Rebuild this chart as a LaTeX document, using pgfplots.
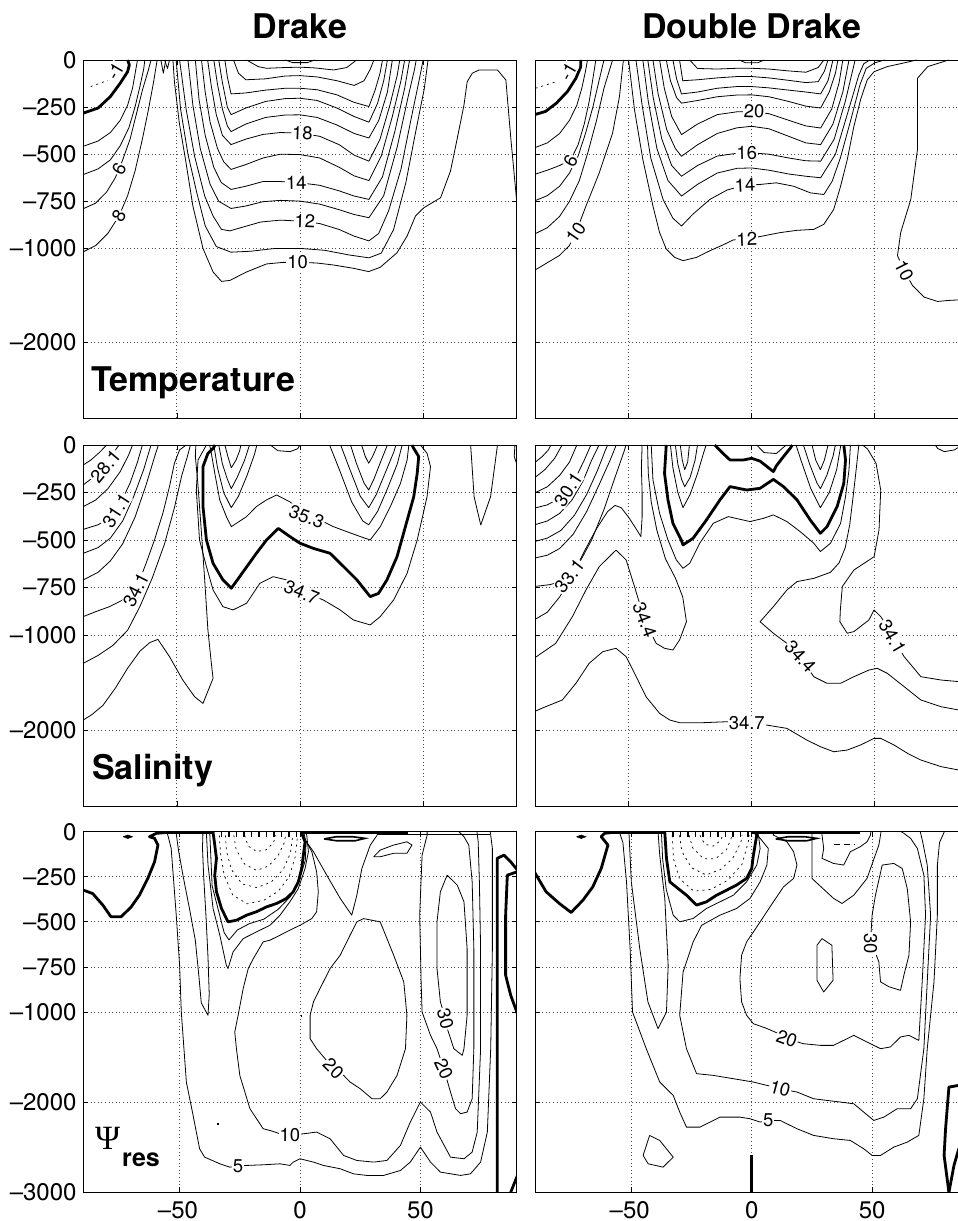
\documentclass[border=0pt]{standalone}
\usepackage{fontspec}
\setmainfont{TeX Gyre Heros}
\newfontfamily\psifont{Liberation Serif}
\usepackage{pgfplots}
\pgfplotsset{compat=1.18}

% depth axis: upper 1000 m stretched twice as much as the deep ocean
\pgfplotsset{
  y coord trafo/.code={\pgfmathparse{ifthenelse((#1)>-1000,(#1),0.5*(#1)-500)}},
  y coord inv trafo/.code={\pgfmathparse{ifthenelse((#1)>-1000,(#1),2*(#1)+1000)}},
  panel/.style={scale only axis, width=433.4pt, xmin=-88, xmax=88, ymax=0,
    xtick={-50,0,50}, xticklabels={}, yticklabels={},
    axis line style={line width=0.9pt},
    tick align=inside, major tick length=5pt,
    tick style={line width=0.7pt, black},
    grid=major, major grid style={black!70, line width=0.8pt, dash pattern=on 0.9pt off 2.7pt},
  },
}
\tikzset{
  c/.style={black, line width=0.8pt, line join=round},
  ck/.style={black, line width=2.8pt, line join=round},
  cd/.style={black, line width=0.7pt, dash pattern=on 2pt off 4pt},
  lb/.style={fill=white, inner sep=0.8pt, font=\fontsize{18.5}{18.5}\selectfont},
  yl/.style={anchor=east, inner sep=0pt, font=\fontsize{24}{24}\selectfont},
  xl/.style={anchor=north, inner sep=0pt, font=\fontsize{24}{24}\selectfont},
}

\begin{document}
\begin{tikzpicture}
\path[use as bounding box] (0pt,0pt) rectangle (958pt,1221pt);
\clip (0pt,0pt) rectangle (958pt,1221pt);

%================ Temperature, Drake =================
\begin{axis}[panel, at={(83.3pt,803pt)}, anchor=south west, height=358pt, ymin=-2800,
  ytick={-2000,-1000,-750,-500,-250,0}]
\addplot[ck] coordinates {(-88,-282) (-82,-255) (-77,-194) (-73,-123) (-70,-62) (-69.3,-26) (-70,0)};
\addplot[cd] coordinates {(-85,-141) (-78,-108)};
\addplot[c] coordinates {(-88,-458) (-82,-430) (-77,-385) (-73,-320) (-70,-240) (-68,-150) (-66.8,-60) (-66,0)};
\addplot[c] coordinates {(-88,-608) (-82,-578) (-77,-530) (-73,-455) (-69.5,-360) (-67,-250) (-65,-140) (-63.5,-50) (-63,0)};
\addplot[c] coordinates {(-88,-789) (-83,-760) (-78.5,-700) (-75,-625) (-72,-530) (-69,-420) (-66.5,-290) (-64,-160) (-61.5,-50) (-60.5,0)};
\addplot[c] coordinates {(-88,-1036) (-83,-985) (-78,-920) (-73.5,-828) (-70,-720) (-67,-590) (-64,-420) (-61.5,-260) (-59.5,-120) (-58,0)};
\addplot[c] coordinates {(-56.5,0) (-55.5,-70) (-54.5,0)};
\addplot[c] coordinates {(-55,0) (-53.8,-45) (-53,0)};
\addplot[c] coordinates {(-6,0) (-3,-14) (3,-14) (6,0)};
\addplot[c] coordinates {(-21.7,0) (-17,-35) (-13.6,-44) (-6,-40) (0,-38) (6,-42) (13.6,-53) (19,-40) (23,0)};
\addplot[c] coordinates {(-27,0) (-25,-70) (-22,-105) (-14,-100) (-6,-85) (0,-83) (7,-90) (15,-110) (22,-135) (26,-110) (28.5,-50) (30,0)};
\addplot[c] coordinates {(-30.5,0) (-29.5,-90) (-28,-180) (-22,-175) (-14,-160) (-6,-150) (0,-150) (7,-158) (15,-185) (22,-225) (28,-247) (30.5,-160) (32.5,-70) (33.5,0)};
\addplot[c] coordinates {(-33,0) (-31.5,-120) (-29.5,-250) (-28,-290) (-22,-255) (-14,-220) (-6,-205) (0,-203) (7,-215) (15,-255) (22,-300) (28,-330) (31.5,-230) (34,-110) (35.5,0)};
\addplot[c] coordinates {(-35,0) (-33.5,-130) (-31.5,-260) (-29.5,-350) (-28,-380) (-22,-340) (-14,-305) (-6,-292) (0,-291) (7,-305) (15,-345) (22,-390) (28,-414) (32,-320) (35.5,-170) (37.5,0)};
\addplot[c] coordinates {(-37.5,0) (-36,-140) (-34,-290) (-31.5,-400) (-28,-449) (-22,-420) (-15,-395) (-8,-385) (0,-388) (8,-405) (16,-450) (22,-505) (28,-537) (32.5,-420) (36.5,-240) (39.5,-80) (40.5,0)};
\addplot[c] coordinates {(-40,0) (-38.5,-170) (-36.5,-330) (-33.5,-470) (-31,-540) (-28,-581) (-22,-555) (-15,-520) (-8,-500) (0,-502) (8,-520) (16,-570) (22,-615) (28,-640) (33,-510) (37.5,-300) (41,-110) (42.5,0)};
\addplot[c] coordinates {(-42.5,0) (-41,-210) (-38.5,-400) (-35,-570) (-32,-650) (-28,-687) (-22,-670) (-15,-645) (-8,-645) (0,-652) (8,-665) (16,-695) (22,-722) (28,-740) (33.5,-620) (38.5,-380) (42.5,-150) (44.5,0)};
\addplot[c] coordinates {(-45.5,0) (-43.5,-240) (-40.5,-470) (-36.5,-660) (-33,-750) (-28,-788) (-22,-775) (-15,-752) (-8,-745) (0,-749) (8,-765) (16,-795) (22,-820) (28,-837) (34,-720) (39.5,-460) (44,-190) (46.5,-50) (47.2,0)};
\addplot[c] coordinates {(-48.9,0) (-46.2,-264) (-42.8,-511) (-38.7,-722) (-35.3,-828) (-31.9,-899) (-28.5,-907) (-24,-890) (-16,-860) (-8,-850) (0,-855) (8,-868) (16,-900) (22,-935) (28,-960) (32,-920) (36,-800) (41,-580) (45,-320) (48.5,-100) (50,0)};
\addplot[c] coordinates {(-50.3,0) (-48.5,-260) (-45.5,-500) (-42,-700) (-38.5,-880) (-34,-990) (-28,-1040) (-20,-1030) (-10,-1000) (0,-1000) (10,-1020) (20,-1070) (28,-1100) (33,-1050) (38,-900) (43,-650) (47,-380) (50.5,-150) (52,0)};
\addplot[c] coordinates {(-51.6,0) (-51,-115) (-49,-335) (-46.5,-528) (-43.5,-775) (-39.4,-1000) (-35.3,-1250) (-31.9,-1350) (-28.5,-1340) (-21.7,-1250) (-13.6,-1165) (-6.8,-1148) (0,-1148) (6.8,-1155) (13.6,-1176) (21.7,-1211) (27.9,-1246) (32.6,-1200) (39.4,-1046) (43.5,-934) (46.9,-828) (50.3,-784) (57.1,-731) (61.1,-590) (63.9,-414) (66.6,-238) (67.9,-115) (70,-70) (72.7,-53) (80.2,-53) (83.6,-106) (85.6,-414) (88,-749)};
\node[lb,rotate=60] at (axis cs:-75,-60) {-1};
\node[lb,rotate=62] at (axis cs:-73.5,-578) {6};
\node[lb,rotate=60] at (axis cs:-73.5,-828) {8};
\node[lb,rotate=-2] at (axis cs:1,-388) {18};
\node[lb,rotate=1] at (axis cs:-1.5,-650) {14};
\node[lb,rotate=-2] at (axis cs:2,-856) {12};
\node[lb] at (axis cs:-1,-1148) {10};
\end{axis}

%================ Temperature, Double Drake =================
\begin{axis}[panel, at={(535pt,803pt)}, anchor=south west, height=358pt, ymin=-2800,
  ytick={-2000,-1000,-750,-500,-250,0}]
\addplot[ck] coordinates {(-88.4,-291) (-83.7,-273) (-79.3,-229) (-74.8,-167) (-71.4,-97) (-69.4,-35) (-69.4,0)};
\addplot[cd] coordinates {(-87.8,-150) (-80,-118)};
\addplot[c] coordinates {(-88.4,-467) (-83,-440) (-78,-390) (-74,-320) (-71,-240) (-69,-150) (-67.5,-60) (-66.7,0)};
\addplot[c] coordinates {(-88.4,-608) (-83,-585) (-78,-560) (-73.5,-530) (-70.5,-450) (-68,-340) (-66,-220) (-64.5,-100) (-63.3,0)};
\addplot[c] coordinates {(-88.4,-749) (-83,-720) (-78,-670) (-74,-600) (-70.5,-510) (-67.5,-390) (-64.5,-250) (-62,-110) (-60,0)};
\addplot[c] coordinates {(-88.4,-925) (-83,-890) (-78,-830) (-74,-750) (-70,-640) (-66.5,-490) (-63,-320) (-60,-150) (-56.5,0)};
\addplot[c] coordinates {(-88.4,-1236) (-78.2,-1077) (-74.1,-986) (-71.4,-916) (-67.3,-775) (-61.9,-599) (-56.5,-388) (-53.7,-194) (-52.4,-35) (-52.1,0)};
\addplot[c] coordinates {(-5,0) (-2.5,-15) (2.5,-15) (5,0)};
\addplot[c] coordinates {(-25.2,0) (-22,-45) (-14,-48) (-6,-44) (0,-44) (7,-48) (15,-58) (22,-65) (27,-40) (29.3,0)};
\addplot[c] coordinates {(-29.3,0) (-28,-110) (-22,-105) (-14,-95) (-6,-88) (0,-88) (7,-95) (15,-108) (22,-120) (27,-115) (29.5,-60) (31,0)};
\addplot[c] coordinates {(-32,0) (-30.5,-100) (-28.5,-180) (-22,-170) (-14,-150) (-6,-141) (0,-141) (7,-148) (15,-160) (22,-170) (28,-180) (31,-110) (33,0)};
\addplot[c] coordinates {(-34.7,0) (-33,-110) (-30.5,-200) (-28.5,-229) (-22,-215) (-14,-195) (-6,-186) (0,-185) (7,-195) (15,-220) (22,-245) (28,-255) (31.5,-170) (34,-70) (35,0)};
\addplot[c] coordinates {(-37.4,0) (-35.5,-150) (-32.5,-300) (-28.5,-396) (-22,-340) (-14,-290) (-6,-275) (0,-273) (7,-285) (15,-320) (22,-350) (28,-361) (32.5,-260) (35.5,-120) (37,0)};
\addplot[c] coordinates {(-40.1,0) (-38,-180) (-34.5,-370) (-31,-470) (-28.5,-511) (-22,-450) (-14,-390) (-6,-360) (0,-352) (7,-365) (15,-405) (22,-440) (28,-449) (33,-340) (37,-170) (39.5,0)};
\addplot[c] coordinates {(-42.2,0) (-40,-200) (-36.5,-420) (-32.5,-560) (-28.5,-617) (-22,-560) (-14,-510) (-6,-495) (0,-493) (7,-500) (15,-520) (22,-535) (28,-537) (33.5,-420) (38,-220) (42,0)};
\addplot[c] coordinates {(-44.2,0) (-42,-220) (-38.5,-470) (-34,-640) (-28.5,-722) (-22,-660) (-14,-600) (-6,-575) (0,-573) (7,-585) (15,-605) (22,-617) (28,-625) (34,-500) (39,-280) (43.5,-80) (45.5,-20) (48,0)};
\addplot[c] coordinates {(-47,0) (-44.5,-240) (-41,-520) (-36,-740) (-32,-840) (-28.5,-881) (-24,-820) (-17,-740) (-10,-690) (-3,-665) (3,-661) (10,-652) (17,-670) (23.8,-705) (29.3,-714) (32.7,-643) (36,-520) (40,-330) (44,-130) (46.5,-45) (50,-15) (54,0)};
\addplot[c] coordinates {(-50,0) (-47.6,-264) (-44.2,-529) (-40.1,-775) (-37.4,-916) (-34.7,-1007) (-31.3,-1095) (-27.9,-1130) (-22.4,-1095) (-17,-1025) (-11.6,-981) (-7.5,-955) (-2,-951) (3.4,-937) (11.6,-916) (18.4,-904) (25.2,-899) (29.3,-872) (33.3,-793) (36.1,-670) (38.8,-529) (41.5,-352) (44.2,-211) (46.9,-106) (49.7,-62) (55.1,-35) (62,-15) (67,0)};
\addplot[c] coordinates {(80,0) (71.5,-35) (67.3,-97) (67.3,-300) (67.3,-476) (64.6,-740) (60.5,-916) (59.2,-1077) (61.9,-1236) (65.3,-1394) (70,-1517) (75.5,-1563) (79.6,-1553) (84.2,-1546) (88,-1546)};
\node[lb,rotate=60] at (axis cs:-74.5,-62) {-1};
\node[lb,rotate=62] at (axis cs:-73.5,-535) {6};
\node[lb,rotate=55] at (axis cs:-71.4,-916) {10};
\node[lb,rotate=-2] at (axis cs:1,-273) {20};
\node[lb,rotate=1] at (axis cs:-2,-493) {16};
\node[lb,rotate=3] at (axis cs:-2.7,-663) {14};
\node[lb,rotate=2] at (axis cs:-2,-951) {12};
\node[lb,rotate=-63] at (axis cs:61.9,-1236) {10};
\end{axis}

%================ Salinity, Drake =================
\begin{axis}[panel, at={(83.3pt,415pt)}, anchor=south west, height=361pt, ymin=-2800,
  ytick={-2000,-1000,-750,-500,-250,0}]
\addplot[c] coordinates {(-88,-105) (-85,-80) (-81.5,-40) (-78.5,0)};
\addplot[c] coordinates {(-88,-210) (-84,-170) (-80,-115) (-76.5,-55) (-73.5,0)};
\addplot[c] coordinates {(-88,-324) (-83,-290) (-78,-230) (-73,-140) (-69.5,-50) (-68,0)};
\addplot[c] coordinates {(-88,-444) (-82,-420) (-77,-380) (-73,-310) (-69,-200) (-66,-90) (-64,0)};
\addplot[c] coordinates {(-88,-570) (-82,-540) (-77,-490) (-72,-400) (-67.5,-270) (-63.5,-130) (-60.5,0)};
\addplot[c] coordinates {(-88,-710) (-82,-670) (-77,-610) (-72,-520) (-67,-380) (-62.5,-210) (-59,-60) (-57.5,0)};
\addplot[c] coordinates {(-88,-903) (-82.9,-877) (-77.4,-851) (-72,-816) (-68.6,-781) (-66.6,-760) (-62.5,-623) (-59.1,-500) (-55.7,-360) (-53,-219) (-51,-96) (-48.9,-26) (-46.2,0)};
\addplot[c] coordinates {(-88,-1298) (-82,-1215) (-76,-1110) (-70,-975) (-65,-850) (-60,-700) (-55,-520) (-51,-330) (-48,-160) (-45.5,-50) (-44.5,0)};
\addplot[c] coordinates {(-88,-1895) (-84.6,-1840) (-80,-1740) (-75,-1560) (-70,-1350) (-65,-1170) (-61,-1080) (-57.7,-1046) (-53,-1228) (-47.6,-1474) (-42.8,-1650) (-39.4,-1720) (-35.3,-1456) (-36,-1298) (-37.4,-973) (-38.7,-710) (-40.1,-447) (-41.5,-200) (-42.5,-60) (-42.3,0)};
\addplot[c] coordinates {(-38,0) (-41.4,-79) (-42.1,-237) (-40.8,-500) (-38,-640) (-35.3,-763) (-31.3,-851) (-27.2,-868) (-21.7,-833) (-16.3,-728) (-10.9,-693) (-5.4,-710) (0.7,-770) (9.5,-816) (16.3,-868) (21.7,-921) (28.5,-947) (32.6,-903) (38,-816) (43.5,-675) (47.6,-500) (51.6,-272) (53,-114) (51.6,-44) (48.9,0)};
\addplot[ck] coordinates {(-34.5,0) (-35.3,-18) (-37.4,-44) (-39.4,-114) (-39.4,-324) (-38,-500) (-35.3,-623) (-31.3,-710) (-27.9,-754) (-24.5,-693) (-17.7,-570) (-13.6,-500) (-8.8,-439) (-4.1,-482) (0,-517) (5.4,-544) (12.2,-570) (17.7,-640) (23.1,-710) (28.5,-798) (31.9,-781) (35.3,-710) (39.4,-588) (42.8,-430) (46.2,-272) (47.6,-149) (48.2,-61) (46.2,-18) (45.5,0)};
\addplot[c] coordinates {(-36.7,0) (-36,-44) (-34.6,-149) (-32.6,-289) (-29.9,-377) (-27.9,-430) (-25.8,-412) (-21.7,-377) (-17.7,-324) (-13.6,-289) (-9.5,-263) (-4,-300) (2.7,-377) (8.2,-395) (13.6,-430) (19,-456) (24.5,-482) (28.5,-500) (32.6,-430) (36.7,-324) (40.8,-202) (43.5,-79) (44.2,0)};
\addplot[c] coordinates {(-35,0) (-33.5,-120) (-31,-250) (-27.9,-330) (-25,-270) (-21.5,-160) (-18.5,-50) (-17.5,0)};
\addplot[c] coordinates {(-33,0) (-31.5,-100) (-29.5,-180) (-27.9,-230) (-25.5,-170) (-22.5,-80) (-20.5,0)};
\addplot[c] coordinates {(-30.5,0) (-29.3,-60) (-27.9,-120) (-26,-80) (-24.5,-30) (-24,0)};
\addplot[c] coordinates {(12,0) (16,-130) (21,-300) (25.5,-400) (27.9,-420) (31.5,-350) (35.5,-230) (39.5,-100) (41.5,0)};
\addplot[c] coordinates {(16.5,0) (20,-120) (24.5,-270) (27.9,-330) (31,-260) (34.5,-150) (38,-40) (39,0)};
\addplot[c] coordinates {(20.5,0) (23,-100) (26,-200) (27.9,-237) (30,-180) (33,-80) (35.5,0)};
\addplot[c] coordinates {(25,0) (26.5,-60) (27.9,-96) (29.5,-60) (31.5,0)};
\addplot[c] coordinates {(-12,0) (-9,-30) (-4,-35) (-1,-20) (0,0)};
\addplot[c] coordinates {(69.3,0) (70.7,-272) (73.4,-421) (77.4,-272) (80.2,0)};
\addplot[c] coordinates {(87.3,0) (87,-60) (88,-100)};
\node[lb,rotate=50] at (axis cs:-79,-114) {28.1};
\node[lb,rotate=57] at (axis cs:-74.5,-345) {31.1};
\node[lb,rotate=63] at (axis cs:-66.6,-763) {34.1};
\node[lb,rotate=-20] at (axis cs:2.7,-377) {35.3};
\node[lb,rotate=-22] at (axis cs:0.7,-775) {34.7};
\end{axis}

%================ Salinity, Double Drake =================
\begin{axis}[panel, at={(535pt,415pt)}, anchor=south west, height=361pt, ymin=-2800,
  ytick={-2000,-1000,-750,-500,-250,0}]
\addplot[c] coordinates {(-88.4,-96) (-85,-60) (-82.5,-25) (-81.6,0)};
\addplot[c] coordinates {(-88.4,-175) (-84,-130) (-80,-70) (-77,0)};
\addplot[c] coordinates {(-88.4,-254) (-83,-220) (-78,-160) (-74,-90) (-71,0)};
\addplot[c] coordinates {(-88.4,-333) (-83,-315) (-78,-280) (-74.5,-235) (-71,-160) (-68,-80) (-65.3,0)};
\addplot[c] coordinates {(-88.4,-421) (-83,-400) (-78,-360) (-73,-290) (-68.5,-190) (-65,-80) (-62,0)};
\addplot[c] coordinates {(-88.4,-509) (-83,-490) (-77.5,-450) (-72,-370) (-67,-260) (-62.5,-130) (-59.5,-30) (-58.5,0)};
\addplot[c] coordinates {(-88.4,-596) (-83,-580) (-78,-545) (-72.5,-470) (-67,-350) (-62,-210) (-57.5,-80) (-55,0)};
\addplot[c] coordinates {(-88.4,-745) (-82,-735) (-77.5,-720) (-74,-690) (-70,-620) (-65,-500) (-60,-340) (-55.5,-170) (-52,-40) (-51,0)};
\addplot[c] coordinates {(-88.4,-921) (-83,-880) (-78,-800) (-73,-690) (-68,-560) (-63,-440) (-58.5,-350) (-55.5,-318) (-53,-330) (-50,-380) (-47,-440) (-45,-482) (-44.5,-380) (-44.5,-250) (-44.8,-120) (-44.5,0)};
\addplot[c] coordinates {(-88.4,-1246) (-79.6,-1088) (-72.8,-903) (-67.3,-763) (-61.9,-640) (-55.1,-553) (-51,-605) (-47.6,-745) (-43.5,-921) (-38.8,-1088) (-35.4,-1140) (-32,-1158) (-29.3,-1053) (-26.5,-930) (-28,-800) (-31,-700) (-35,-600) (-38.5,-450) (-40.8,-300) (-42,-150) (-42.3,0)};
\addplot[c] coordinates {(-88.4,-1807) (-83.7,-1755) (-76.9,-1684) (-71.4,-1509) (-66,-1298) (-60.5,-1176) (-55.1,-1140) (-51,-1228) (-46.9,-1439) (-42.9,-1650) (-37.4,-1825) (-33.3,-1895) (-29.3,-1923) (-19.7,-1923) (-10.2,-1913) (-2,-1931) (6.1,-1948) (14.3,-1983) (22.4,-2106) (27.9,-2176) (33.3,-2229) (38.8,-2211) (44.2,-2158) (49.7,-2088) (52.4,-2088) (57.8,-2158) (63.3,-2246) (68.7,-2316) (76.9,-2386) (84.2,-2422) (88,-2430)};
\addplot[c] coordinates {(88,-1795) (84.2,-1790) (76.9,-1755) (68.7,-1684) (61.9,-1544) (55.1,-1404) (51,-1351) (47.6,-1369) (41.5,-1439) (36.1,-1509) (30.6,-1509) (25.2,-1439) (19.7,-1228) (14.3,-1088) (8.8,-991) (3.4,-930) (8.8,-851) (14.3,-763) (18.4,-719) (25.2,-702) (32,-670) (35.5,-620) (38,-540) (39.8,-420) (41.2,-270) (42.5,-120) (43.5,0)};
\addplot[c] coordinates {(45,0) (47,-20) (50.5,-96) (52.4,-237) (51.7,-447) (49.7,-588) (41.5,-658) (36.8,-745) (36,-868) (35.8,-930) (38.8,-991) (41.5,-982) (47.6,-921) (49.7,-868) (52.4,-903) (55.1,-956) (57.1,-1018) (61.9,-1228) (68.7,-1439) (76.9,-1474) (84.2,-1491) (88,-1495)};
\addplot[c] coordinates {(-40.8,0) (-40.1,-184) (-37.4,-360) (-34,-500) (-30.6,-605) (-27.9,-649) (-25.2,-623) (-21.1,-517) (-15.6,-412) (-9.5,-377) (-0.7,-403) (4.8,-386) (8.8,-368) (14.3,-403) (19.7,-456) (25.2,-517) (27.9,-561) (32,-517) (36.1,-412) (38.1,-272) (39.5,-132) (40.1,0)};
\addplot[ck] coordinates {(-34.7,0) (-35.4,-149) (-34,-289) (-32,-412) (-28.6,-500) (-27.9,-526) (-23.8,-491) (-18.4,-395) (-12.9,-289) (-8.8,-219) (-2,-237) (3.4,-228) (8.8,-181) (12.9,-219) (18.4,-289) (23.8,-395) (27.9,-465) (30.6,-430) (34.7,-324) (37.4,-202) (38.1,-79) (37.4,0)};
\addplot[ck] coordinates {(-15,0) (-12,-40) (-8.8,-79) (-3.4,-79) (0,-70) (3.4,-85) (8.8,-140) (10,-110) (12.9,-61) (15.6,-18) (16.5,0)};
\addplot[c] coordinates {(-33,0) (-32,-120) (-30,-250) (-27.9,-330) (-25,-260) (-22,-150) (-19.5,-40) (-18.5,0)};
\addplot[c] coordinates {(-31,0) (-30,-100) (-28.5,-180) (-27.2,-220) (-25,-170) (-23,-80) (-22,0)};
\addplot[c] coordinates {(-29,0) (-28.2,-80) (-27.2,-130) (-26,-90) (-25.3,0)};
\addplot[c] coordinates {(18,0) (20,-80) (24,-230) (27.9,-330) (31.5,-250) (34.5,-130) (36.2,0)};
\addplot[c] coordinates {(21,0) (23.5,-100) (26.5,-200) (27.9,-230) (30.5,-160) (33,-60) (34,0)};
\addplot[c] coordinates {(24.5,0) (26,-80) (27.9,-130) (29.5,-80) (31,0)};
\addplot[c] coordinates {(2,0) (5,-40) (10,-45) (14,0)};
\addplot[c] coordinates {(74.5,0) (75.5,-18) (78.2,-35) (82.3,-26) (84.4,-9) (85,0)};
\node[lb,rotate=57] at (axis cs:-74.5,-235) {30.1};
\node[lb,rotate=52] at (axis cs:-74,-690) {33.1};
\node[lb,rotate=-69] at (axis cs:-43.5,-921) {34.4};
\node[lb,rotate=-48] at (axis cs:19.7,-1228) {34.4};
\node[lb,rotate=-60] at (axis cs:57.1,-1018) {34.1};
\node[lb] at (axis cs:-2,-1931) {34.7};
\end{axis}

%================ Residual streamfunction, Drake =================
\begin{axis}[panel, at={(83.3pt,28.7pt)}, anchor=south west, height=360.6pt, xmin=-90, xmax=90, ymin=-3000,
  ytick={-3000,-2000,-1000,-750,-500,-250,0}]
\addplot[ck] coordinates {(-90,-324) (-86.1,-343) (-81.9,-407) (-78.5,-472) (-74.3,-472) (-70.1,-417) (-66.7,-352) (-63.2,-259) (-60.4,-167) (-59,-74) (-60.4,-37) (-62.5,-28) (-59.7,-9) (-55,-4) (-40,-4) (-36.1,-4) (-35.4,-74) (-34.7,-148) (-35.4,-241) (-34.7,-333) (-32.6,-426) (-29.9,-500) (-26.4,-491) (-22.2,-463) (-18.1,-444) (-13.9,-417) (-9.7,-398) (-5.6,-370) (-2.8,-333) (-0.7,-278) (0.7,-204) (1.4,-130) (2.1,-56) (0.7,-9)};
\addplot[black, fill=black] coordinates {(-73.5,-28) (-71.5,-18) (-69.5,-28) (-71.5,-38) (-73.5,-28)};
\addplot[black, line width=2.5pt] coordinates {(0,-5) (45,-5)};
\addplot[black, line width=5pt, dash pattern=on 1.5pt off 6pt] coordinates {(-33,-14) (-1,-14)};
\addplot[cd] coordinates {(-33.5,-20) (-33,-120) (-31.5,-240) (-28,-350) (-22,-400) (-15,-380) (-9,-330) (-4.5,-250) (-2,-140) (-1,-20)};
\addplot[cd] coordinates {(-31,-20) (-30.5,-110) (-28.5,-210) (-24,-290) (-18,-310) (-12,-280) (-7,-210) (-4,-120) (-3,-20)};
\addplot[cd] coordinates {(-27.5,-20) (-26.5,-100) (-23,-180) (-18,-215) (-13,-190) (-9,-130) (-6.5,-60) (-6,-20)};
\addplot[cd] coordinates {(-23,-20) (-21.5,-80) (-18,-110) (-14,-100) (-11,-60) (-10,-20)};
\addplot[c] coordinates {(-38.9,0) (-38.2,-185) (-36.1,-426) (-33.3,-574) (-30.6,-741) (-29.9,-759) (-27.8,-667) (-23.6,-593) (-18.1,-556) (-12.5,-519) (-8.3,-463) (-4.2,-389) (-0.7,-315) (2.1,-204) (3.5,-111) (2.8,-19) (2,0)};
\addplot[c] coordinates {(-37.5,0) (-37,-150) (-36.5,-300) (-34,-430) (-31.5,-560) (-29.5,-600) (-26,-545) (-21,-510) (-15,-485) (-9,-430) (-4,-360) (-0.5,-270) (2.2,-160) (2.5,-60) (1.5,0)};
\addplot[c] coordinates {(-51.5,0) (-50.5,-100) (-48.5,-250) (-46,-420) (-43.5,-600) (-42,-800) (-41,-950) (-38.2,-1037) (-37.7,-900) (-38.2,-700) (-39,-480) (-40,-250) (-40.5,-90) (-40.3,0)};
\addplot[c] coordinates {(-55.6,0) (-54.9,-19) (-53.5,-93) (-51.4,-463) (-50,-741) (-49.3,-1000) (-47.2,-1777) (-44.4,-2147) (-41.7,-2517) (-39.6,-2610) (-33.3,-2684) (-29.2,-2721) (-22.2,-2702) (-15.3,-2695) (-8.3,-2684) (-4.2,-2702) (-2.8,-2665) (0,-2628) (5.6,-2665) (9.7,-2702) (16.7,-2739) (22.2,-2795) (27.8,-2813) (34.7,-2813) (41.7,-2758) (45.8,-2665) (50,-2499) (54.2,-2665) (58.3,-2776) (66.7,-2813) (70.8,-2795) (75,-2665) (77.8,-2332) (79.2,-1407) (79.9,-648) (79.9,-93) (79.2,-19) (79,0)};
\addplot[c] coordinates {(0.7,0) (0.7,-9) (4.9,-111) (6.9,-222) (7.6,-333) (6.9,-444) (4.9,-482) (0,-519) (-4.2,-546) (-8.3,-574) (-12.5,-602) (-15.3,-611) (-19.4,-704) (-21.5,-759) (-23.6,-870) (-25.7,-1037) (-27.1,-1222) (-26.4,-1407) (-25,-1703) (-20.8,-2073) (-15.3,-2295) (-12.5,-2314) (-8.3,-2351) (-4.2,-2369) (1.4,-2351) (6.9,-2332) (12.5,-2406) (18.1,-2591) (23.6,-2647) (30.6,-2665) (36.1,-2647) (41.7,-2480) (45.8,-2221) (50,-1999) (54.2,-2110) (56.9,-2332) (62.5,-2610) (68.1,-2628) (71.5,-2554) (73.6,-2332) (75,-1407) (75,-648) (74.5,-278) (74,-56) (73.5,0)};
\addplot[c] coordinates {(26.4,-482) (33.3,-500) (38.9,-685) (43.1,-833) (44.4,-1037) (43.8,-1407) (40.3,-1703) (36.1,-1888) (33.3,-1962) (29.9,-1962) (25,-1851) (20.8,-1777) (18.1,-1703) (13.9,-1629) (6.9,-1407) (4.2,-1296) (4.2,-1037) (5.6,-944) (8.3,-870) (12.5,-759) (16.7,-685) (20.8,-574) (23.6,-500) (26.4,-482)};
\addplot[c] coordinates {(61.1,-241) (65.3,-296) (68.1,-389) (69.4,-648) (69.4,-1037) (68.1,-1407) (67.4,-1481) (63.9,-1407) (61.1,-1180) (60.4,-1074) (58.3,-944) (56.9,-759) (56.9,-500) (58.3,-333) (61.1,-241)};
\addplot[c] coordinates {(52.8,0) (52.8,-19) (50.7,-130) (49.7,-463) (50.3,-833) (50.7,-1000) (54.2,-1259) (56.9,-1407) (59.7,-1629) (62.5,-1888) (64.6,-2073) (66.7,-2128) (69.4,-2110) (71.5,-1962) (72.2,-1407) (72.2,-648) (71.5,-278) (70.1,-74) (68.1,-28) (66,0)};
\addplot[c] coordinates {(0.7,-19) (5.6,-111) (11.1,-241) (16.7,-370) (21.5,-463) (23.6,-352) (25.7,-204) (29.2,-74) (31.9,-22) (32.5,0)};
\addplot[c] coordinates {(30.6,-139) (33.3,-102) (38.9,-74) (44.4,-56) (46.5,-74) (44.4,-120) (38.9,-120) (33.3,-139) (30.6,-139)};
\addplot[black, line width=1.6pt] coordinates {(10,-40) (15,-28) (22,-28) (27,-37) (23,-50) (15,-50) (10,-40)};
\addplot[c] coordinates {(32,-15) (79,-15)};
\addplot[ck] coordinates {(81.9,-3000) (81.9,-1500) (81.9,-148) (84.7,-130) (87.5,-167) (90.3,-213)};
\addplot[ck] coordinates {(90.3,-222) (86.1,-241) (85.4,-463) (85.4,-796) (87.5,-907) (90.3,-1019)};
\addplot[ck] coordinates {(87.5,-3000) (90.3,-2813)};
\addplot[black, line width=1.5pt] coordinates {(0.4,-1044) (1.0,-1044)};
\addplot[black, line width=1.5pt] coordinates {(-34.3,-2240) (-33.7,-2240)};
\node[lb] at (axis cs:-25.7,-2712) {5};
\node[lb] at (axis cs:-4.2,-2369) {10};
\node[lb,rotate=-45] at (axis cs:13.9,-1629) {20};
\node[lb,rotate=-75] at (axis cs:60.4,-1074) {30};
\node[lb,rotate=-65] at (axis cs:59.7,-1629) {20};
\end{axis}

%================ Residual streamfunction, Double Drake =================
\begin{axis}[panel, at={(535pt,28.7pt)}, anchor=south west, height=360.6pt, xmin=-90, xmax=90, ymin=-3000,
  ytick={-3000,-2000,-1000,-750,-500,-250,0}]
\addplot[ck] coordinates {(-90.3,-222) (-85.4,-333) (-79.9,-398) (-75,-448) (-70.1,-380) (-66,-306) (-62.5,-204) (-59.7,-74) (-62.5,-28) (-61.1,-9) (-58,-4) (-40,-4) (-36.1,-4) (-35.4,-148) (-34,-278) (-30.6,-315) (-27.1,-352) (-22.9,-407) (-18.8,-389) (-14.6,-352) (-10.4,-324) (-6.3,-296) (-2.1,-259) (0,-204) (0.7,-130) (2.1,-19) (1.5,-4)};
\addplot[black, fill=black] coordinates {(-72.8,-28) (-70.8,-18) (-68.8,-28) (-70.8,-38) (-72.8,-28)};
\addplot[black, line width=2.5pt] coordinates {(0,-5) (45,-5)};
\addplot[black, line width=5pt, dash pattern=on 1.5pt off 6pt] coordinates {(-33,-14) (-1,-14)};
\addplot[cd] coordinates {(-33,-20) (-32.5,-150) (-30,-260) (-24,-330) (-17,-320) (-10,-270) (-4,-180) (-1.5,-60) (-1,-20)};
\addplot[cd] coordinates {(-30,-20) (-29,-110) (-25,-200) (-19,-240) (-13,-210) (-8,-150) (-4.5,-60) (-4,-20)};
\addplot[cd] coordinates {(-26,-20) (-24.5,-90) (-20,-150) (-15,-150) (-10.5,-100) (-8,-20)};
\addplot[cd] coordinates {(-21.5,-20) (-19.5,-70) (-16,-80) (-13,-50) (-12,-20)};
\addplot[c] coordinates {(-37.5,0) (-37,-150) (-35.5,-320) (-32.6,-463) (-29.9,-500) (-24.3,-481) (-18.8,-426) (-13.2,-389) (-7.6,-352) (-2.1,-278) (2.1,-185) (3.5,-93) (2.8,-19) (2,0)};
\addplot[c] coordinates {(-51,0) (-50,-278) (-46.5,-648) (-43.1,-944) (-38.9,-1185) (-35.4,-1000) (-34.7,-741) (-36.1,-370) (-38.2,-130) (-38.9,0)};
\addplot[c] coordinates {(-55,0) (-53.5,-60) (-52,-278) (-50.5,-648) (-49.5,-1000) (-43.8,-1407) (-38.2,-1777) (-32.6,-1925) (-29.9,-2110) (-27.1,-2277) (-21.5,-2277) (-13.2,-2166) (-4.9,-2166) (-0.7,-2184) (3.5,-2221) (6.9,-2203) (11.8,-2203) (18.8,-2295) (25.7,-2369) (34,-2406) (41,-2425) (46.5,-2517) (50,-2591) (53.5,-2591) (59,-2499) (64.6,-2443) (69.4,-2369) (71.5,-1962) (72.9,-1407) (75.7,-833) (77.1,-463) (77.1,-185) (78,-60) (80,0)};
\addplot[c] coordinates {(0.7,0) (3.5,-37) (6.9,-93) (6.3,-185) (3.5,-278) (-0.7,-370) (-6.3,-426) (-13.2,-463) (-20.8,-519) (-24.3,-611) (-28.5,-778) (-29.9,-1037) (-27.1,-1407) (-22.9,-1684) (-16,-1703) (-7.6,-1740) (0.7,-1777) (6.3,-1814) (11.8,-1851) (18.8,-1888) (25.7,-1962) (31.3,-1981) (36.8,-1999) (42.4,-2018) (46.5,-2110) (50.7,-2203) (54.9,-2166) (60.4,-2073) (66,-2073) (68.8,-1962) (71.5,-1407) (72.9,-833) (74.3,-463) (72.9,-185) (71,-56) (70,0)};
\addplot[c] coordinates {(9,0) (9,-19) (14.6,-56) (17.4,-111) (18.8,-185) (17.4,-259) (13.2,-306) (9,-389) (3.5,-500) (0.7,-556) (-2.1,-611) (-4.2,-685) (-4.9,-815) (-4.2,-944) (-2.1,-1037) (0.7,-1130) (6.3,-1183) (11.1,-1239) (14.6,-1296) (21.5,-1352) (28.5,-1370) (34,-1370) (42.4,-1259) (47.9,-1333) (53.5,-1407) (57.6,-1388) (61.8,-1277) (65.3,-1259) (69.4,-1315) (70.8,-833) (72.2,-463) (71.5,-241) (68.8,-93) (66,-37) (63.2,-9) (62,0)};
\addplot[c] coordinates {(54.2,-185) (59,-176) (62.5,-204) (64.6,-315) (66,-500) (65.3,-685) (63.2,-796) (61.8,-880) (57,-860) (53.5,-833) (52.8,-722) (50.7,-648) (49.3,-620) (50,-463) (51.4,-352) (54.2,-185)};
\addplot[c] coordinates {(29.2,-593) (33.3,-630) (33.8,-824) (29.9,-889) (27.1,-824) (27.1,-630) (29.2,-593)};
\addplot[c] coordinates {(-42.4,-2369) (-38.2,-2425) (-32.6,-2610) (-36.8,-2721) (-43,-2684) (-45.1,-2591) (-42.4,-2369)};
\addplot[c] coordinates {(29.2,0) (29.2,-19) (29.9,-93) (29.2,-148) (34,-176) (38.2,-185) (41,-111) (45.1,-83) (47.9,-56) (49.3,-19) (49.5,0)};
\addplot[c] coordinates {(25,0) (25,-37) (25,-259) (34,-370) (37.5,-398) (42.4,-352) (47.9,-259) (52.8,-74) (53.5,-19) (53.7,0)};
\addplot[black, line width=1pt, dash pattern=on 6pt off 4pt] coordinates {(34,-70) (42.4,-70)};
\addplot[black, line width=1.6pt] coordinates {(10,-40) (15,-28) (22,-28) (27,-37) (23,-50) (15,-50) (10,-40)};
\addplot[black, line width=3pt] coordinates {(0,-2591) (0,-3000)};
\addplot[ck] coordinates {(90,-1810) (86,-1814) (81.9,-1833) (80.5,-2300) (79.9,-2591) (81.9,-3000)};
\addplot[ck] coordinates {(81.9,-3000) (84,-2702) (86,-2517) (90,-2400)};
\node[lb,rotate=-20] at (axis cs:14.6,-1296) {20};
\node[lb,rotate=-15] at (axis cs:11.8,-1851) {10};
\node[lb] at (axis cs:6.9,-2203) {5};
\node[lb,rotate=-90] at (axis cs:49.3,-620) {30};
\end{axis}

% tick labels of the depth axes (left column) and latitude axes (bottom row)
\foreach \yy/\tx in {1161/0, 1113.9/–250, 1066.8/–500, 1019.7/–750, 972.6/–1000, 878.4/–2000,
                     776/0, 728.5/–250, 681/–500, 633.5/–750, 586/–1000, 491/–2000,
                     389.3/0, 344.2/–250, 299.2/–500, 254.1/–750, 209/–1000, 119/–2000, 28.7/–3000}
  \node[yl] at (76.7pt,\yy pt) {\tx};
\foreach \xx/\tx in {178/–50, 300/0, 420.4/50, 629.7/–50, 751.7/0, 872.1/50}
  \node[xl] at (\xx pt,20pt) {\tx};

% panel titles and annotations
\node[anchor=base, font=\fontsize{34}{34}\selectfont\bfseries] at (300pt,1182.7pt) {Drake};
\node[anchor=base, font=\fontsize{34}{34}\selectfont\bfseries] at (751.7pt,1182.7pt) {Double Drake};
\node[anchor=base west, inner sep=0pt, font=\fontsize{34}{34}\selectfont\bfseries] at (91pt,829.3pt) {Temperature};
\node[anchor=base west, inner sep=0pt, font=\fontsize{34}{34}\selectfont\bfseries] at (92pt,441.7pt) {Salinity};
\node[anchor=base west, inner sep=0pt, font=\psifont\fontsize{34}{34}\selectfont] at (95pt,71pt) {Ψ};
\node[anchor=base west, inner sep=0pt, font=\fontsize{25}{25}\selectfont\bfseries] at (122pt,54.3pt) {res};
\end{tikzpicture}
\end{document}
